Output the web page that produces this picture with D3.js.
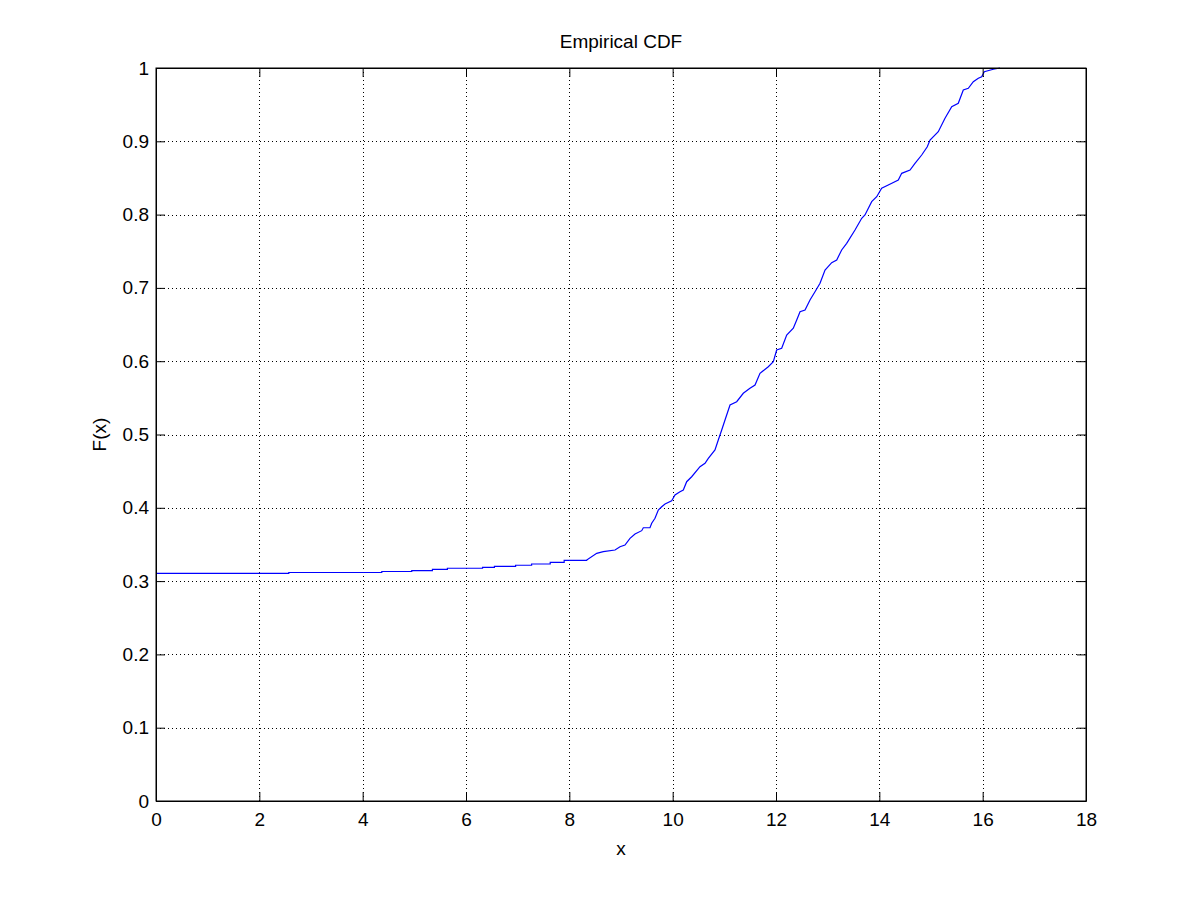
<!DOCTYPE html>
<html>
<head>
<meta charset="utf-8">
<script src="https://cdn.jsdelivr.net/npm/d3@7"></script>
<style>
  html, body { margin: 0; padding: 0; background: #ffffff; }
  svg { display: block; }
  text { font-family: "Liberation Sans", Arial, Helvetica, sans-serif; fill: #000; }
</style>
</head>
<body>
<svg id="chart" width="1200" height="900"></svg>
<script>
// ---- Data ----
// Flat part of the empirical CDF: jump locations and levels after each jump
const flatX = [0, 2.57, 4.37, 4.95, 5.35, 5.64, 6.32, 6.55, 6.96, 7.27, 7.63, 7.90];
const flatF = [0.3106, 0.3117, 0.3131, 0.3144, 0.3161, 0.3175, 0.3188, 0.3202, 0.3216, 0.3233, 0.3256, 0.3284];

// Rising part of the empirical CDF (traced points)
const riseX = [8.336, 8.530, 8.657, 8.884, 8.981, 9.077, 9.174, 9.271, 9.401, 9.432, 9.561, 9.594,
  9.658, 9.722, 9.788, 9.852, 9.981, 10.045, 10.142, 10.206, 10.271, 10.368, 10.529, 10.626,
  10.690, 10.819, 10.883, 10.949, 11.013, 11.110, 11.239, 11.367, 11.496, 11.594, 11.690,
  11.851, 11.948, 12.013, 12.110, 12.207, 12.335, 12.401, 12.465, 12.562, 12.658, 12.755,
  12.852, 12.949, 13.078, 13.175, 13.271, 13.368, 13.529, 13.659, 13.722, 13.852, 13.949,
  14.045, 14.173, 14.367, 14.433, 14.594, 14.690, 14.820, 14.928, 14.981, 15.141, 15.271,
  15.401, 15.528, 15.625, 15.722, 15.819, 15.916, 15.981, 16.032, 16.206, 16.336];
const riseF = [0.3288, 0.3379, 0.3401, 0.3424, 0.3469, 0.3492, 0.3584, 0.3643, 0.3688, 0.3728, 0.3728, 0.3789,
  0.3857, 0.3970, 0.4015, 0.4052, 0.4097, 0.4175, 0.4220, 0.4243, 0.4356, 0.4424, 0.4561, 0.4607,
  0.4675, 0.4789, 0.4925, 0.5061, 0.5198, 0.5402, 0.5447, 0.5562, 0.5630, 0.5675, 0.5835,
  0.5925, 0.5993, 0.6153, 0.6176, 0.6357, 0.6449, 0.6562, 0.6675, 0.6698, 0.6835, 0.6948,
  0.7063, 0.7244, 0.7344, 0.7381, 0.7517, 0.7608, 0.7790, 0.7950, 0.7995, 0.8176, 0.8244,
  0.8359, 0.8404, 0.8472, 0.8563, 0.8608, 0.8700, 0.8813, 0.8926, 0.9018, 0.9131, 0.9314,
  0.9472, 0.9518, 0.9700, 0.9723, 0.9813, 0.9860, 0.9881, 0.9950, 0.9983, 1.0];

const xTicks = [0, 2, 4, 6, 8, 10, 12, 14, 16, 18];
const yTicks = [0, 0.1, 0.2, 0.3, 0.4, 0.5, 0.6, 0.7, 0.8, 0.9, 1];
const titleText = "Empirical CDF";
const xLabelText = "x";
const yLabelText = "F(x)";

// ---- Layout ----
const margin = { left: 156, top: 68, right: 114, bottom: 99 };
const W = 1200, H = 900;
const iw = W - margin.left - margin.right;  // 930
const ih = H - margin.top - margin.bottom;  // 733
const fs = 19;

const svg = d3.select("#chart");
svg.append("rect").attr("width", W).attr("height", H).attr("fill", "#fff");
const g = svg.append("g").attr("transform", `translate(${margin.left},${margin.top})`);

const x = d3.scaleLinear().domain([0, 18]).range([0, iw]);
const y = d3.scaleLinear().domain([0, 1]).range([ih, 0]);

// Grid (dotted)
const grid = g.append("g").attr("class", "grid");
grid.selectAll("line.gx").data(xTicks.filter(t => t > 0 && t < 18)).enter().append("line")
  .attr("x1", d => Math.round(x(d)) + 0.5).attr("x2", d => Math.round(x(d)) + 0.5)
  .attr("y1", 0).attr("y2", ih)
  .attr("stroke", "#000").attr("stroke-width", 1).attr("stroke-dasharray", "1,3");
grid.selectAll("line.gy").data(yTicks.filter(t => t > 0 && t < 1)).enter().append("line")
  .attr("y1", d => Math.round(y(d)) + 0.5).attr("y2", d => Math.round(y(d)) + 0.5)
  .attr("x1", 0).attr("x2", iw)
  .attr("stroke", "#000").attr("stroke-width", 1).attr("stroke-dasharray", "1,3");

// Curve data
const pts = [];
for (let i = 0; i < flatX.length; i++) {
  if (i > 0) pts.push([flatX[i], flatF[i - 1]]);
  pts.push([flatX[i], flatF[i]]);
}
pts.push([riseX[0], flatF[flatF.length - 1]]);
for (let i = 0; i < riseX.length; i++) pts.push([riseX[i], riseF[i]]);

const line = d3.line().x(d => x(d[0])).y(d => y(d[1])).curve(d3.curveLinear);
g.append("path").datum(pts)
  .attr("d", line)
  .attr("fill", "none").attr("stroke", "#0000ff").attr("stroke-width", 1.2);

// Axes with inward ticks
const tl = 9;
const axB = g.append("g").attr("transform", `translate(0,${ih})`)
  .call(d3.axisBottom(x).tickValues(xTicks).tickSizeInner(-tl).tickSizeOuter(0).tickPadding(12).tickFormat(d3.format("d")));
const axT = g.append("g")
  .call(d3.axisTop(x).tickValues(xTicks).tickSizeInner(-tl).tickSizeOuter(0).tickFormat(""));
const axL = g.append("g")
  .call(d3.axisLeft(y).tickValues(yTicks).tickSizeInner(-tl).tickSizeOuter(0).tickPadding(7).tickFormat(d => d3.format("")(+d.toFixed(1))));
const axR = g.append("g").attr("transform", `translate(${iw},0)`)
  .call(d3.axisRight(y).tickValues(yTicks).tickSizeInner(-tl).tickSizeOuter(0).tickFormat(""));

[axB, axT, axL, axR].forEach(a => {
  a.select(".domain").attr("stroke", "#000").attr("stroke-width", 1);
  a.selectAll(".tick line").attr("stroke", "#000");
  a.selectAll("text").attr("font-size", fs).attr("font-family", "Liberation Sans, Arial, sans-serif").attr("fill", "#000");
});
// box edges
g.append("rect").attr("x", 0).attr("y", 0).attr("width", iw).attr("height", ih)
  .attr("fill", "none").attr("stroke", "#000").attr("stroke-width", 1);

// Title and labels
svg.append("text").attr("x", margin.left + iw / 2).attr("y", 48)
  .attr("text-anchor", "middle").attr("font-size", fs).text(titleText);
svg.append("text").attr("x", margin.left + iw / 2).attr("y", 855)
  .attr("text-anchor", "middle").attr("font-size", fs).text(xLabelText);
svg.append("text").attr("transform", `translate(106,${margin.top + ih / 2}) rotate(-90)`)
  .attr("text-anchor", "middle").attr("font-size", fs).text(yLabelText);
</script>
</body>
</html>
